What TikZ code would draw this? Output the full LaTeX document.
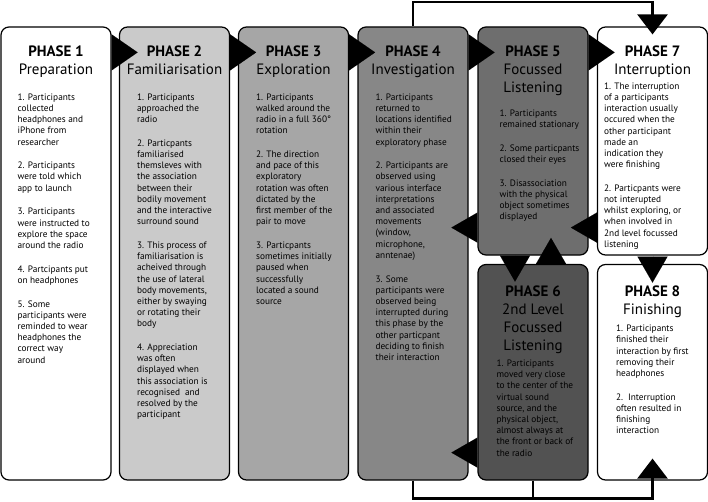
\documentclass[tikz,border=0pt]{standalone}
\usepackage{fontspec}
\setmainfont{PT Sans}
\usetikzlibrary{arrows.meta}

\definecolor{phasetwo}{HTML}{CACACA}
\definecolor{phasethree}{HTML}{A6A6A6}
\definecolor{phasefour}{HTML}{878787}
\definecolor{phasefive}{HTML}{6E6E6E}
\definecolor{phasesix}{HTML}{525252}

\begin{document}
\begin{tikzpicture}[
    x=1pt, y=1pt,
    phase/.style={draw, line width=1.2pt, rounded corners=8pt, minimum width=110pt, inner sep=0pt},
    tall/.style={phase, minimum height=453pt},
    upper/.style={phase, minimum height=228pt},
    lower/.style={phase, minimum height=215.5pt},
    title/.style={anchor=north, align=center, inner sep=0pt, font=\fontsize{15}{18}\selectfont},
    body/.style={anchor=north west, align=left, inner sep=0pt, font=\fontsize{9.3}{11.2}\selectfont},
    flow/.style={-{Triangle[length=26pt,width=36pt]}, line width=0.01pt},
    flowsmall/.style={-{Triangle[length=26pt,width=30pt]}, line width=0.01pt},
    link/.style={line width=2.6pt},
    linkarrow/.style={link, -{Triangle[length=20pt,width=30pt]}}
]
\useasboundingbox (0,0) rectangle (708,501);

% Phase boxes
\node[tall, fill=white] (p1) at (56,247.5) {};
\node[tall, fill=phasetwo] (p2) at (174.5,247.5) {};
\node[tall, fill=phasethree] (p3) at (293.5,247.5) {};
\node[tall, fill=phasefour] (p4) at (413,247.5) {};
\node[upper, fill=phasefive] (p5) at (533,360) {};
\node[lower, fill=phasesix] (p6) at (533,128.75) {};
\node[upper, fill=white] (p7) at (652.5,360) {};
\node[lower, fill=white] (p8) at (652.5,128.75) {};

% Titles
\node[title] (t1) at ([yshift=-19.5pt]p1.north) {\textbf{PHASE 1}\\Preparation};
\node[title] (t2) at ([yshift=-19.5pt]p2.north) {\textbf{PHASE 2}\\Familiarisation};
\node[title] (t3) at ([yshift=-19.5pt]p3.north) {\textbf{PHASE 3}\\Exploration};
\node[title] (t4) at ([yshift=-19.5pt]p4.north) {\textbf{PHASE 4}\\Investigation};
\node[title] (t5) at ([yshift=-19.5pt]p5.north) {\textbf{PHASE 5}\\Focussed\\Listening};
\node[title] (t6) at ([yshift=-21.5pt]p6.north) {\textbf{PHASE 6}\\2nd Level\\Focussed\\Listening};
\node[title] (t7) at ([yshift=-19.5pt]p7.north) {\textbf{PHASE 7}\\Interruption};
\node[title] (t8) at ([yshift=-21.5pt]p8.north) {\textbf{PHASE 8}\\Finishing};

% Observations
\node[body] (b1) at ([xshift=17pt,yshift=-67pt]p1.north west) {1. Participants\\collected\\headphones and\\iPhone from\\researcher\\[12.5pt]
2. Participants\\were told which\\app to launch\\[12.5pt]
3. Participants\\were instructed to\\explore the space\\around the radio\\[12.5pt]
4. Partcipants put\\on headphones\\[12.5pt]
5. Some\\participants were\\reminded to wear\\headphones the\\correct way\\around};
\node[body] (b2) at ([xshift=18pt,yshift=-67pt]p2.north west) {1. Participants\\approached the\\radio\\[12.5pt]
2. Particpants\\familiarised\\themsleves with\\the association\\between their\\bodily movement\\and the interactive\\surround sound\\[12.5pt]
3. This process of\\familiarisation is\\acheived through\\the use of lateral\\body movements,\\either by swaying\\or rotating their\\body\\[12.5pt]
4. Appreciation\\was often\\displayed when\\this association is\\recognised\ \ and\\resolved by the\\participant};
\node[body] (b3) at ([xshift=18pt,yshift=-67pt]p3.north west) {1. Participants\\walked around the\\radio in a full 360°\\rotation\\[12.5pt]
2. The direction\\and pace of this\\exploratory\\rotation was often\\dictated by the\\first member of the\\pair to move\\[12.5pt]
3. Particpants\\sometimes initially\\paused when\\successfully\\located a sound\\source};
\node[body] (b4) at ([xshift=18pt,yshift=-67pt]p4.north west) {1. Participants\\returned to\\locations identified\\within their\\exploratory phase\\[12.5pt]
2. Participants are\\observed using\\various interface\\interpretations\\and associated\\movements\\(window,\\microphone,\\anntenae)\\[12.5pt]
3. Some\\participants were\\observed being\\interrupted during\\this phase by the\\other particpant\\deciding to finish\\their interaction};
\node[body] (b5) at ([xshift=22pt,yshift=-83.3pt]p5.north west) {1. Participants\\remained stationary\\[12.5pt]
2. Some particpants\\closed their eyes\\[12.5pt]
3. Disassociation\\with the physical\\object sometimes\\displayed};
\node[body] (b6) at ([xshift=19pt,yshift=-95.7pt]p6.north west) {1. Participants\\moved very close\\to the center of the\\virtual sound\\source, and the\\physical object,\\almost always at\\the front or back of\\the radio};
\node[body] (b7) at ([xshift=7pt,yshift=-56pt]p7.north west) {1. The interruption\\of a participants\\interaction usually\\occured when the\\other participant\\made an\\indication they\\were finishing\\[12.5pt]
2. Particpants were\\not interupted\\whilst exploring, or\\when involved in\\2nd level focussed\\listening};
\node[body] (b8) at ([xshift=19pt,yshift=-61pt]p8.north west) {1. Participants\\finished their\\interaction by first\\removing their\\headphones\\[12.5pt]
2.\ \ Interruption\\often resulted in\\finishing\\interaction};

% Forward arrows
\draw[flow] ([yshift=-26pt]p1.north east) -- ++(26pt,0);
\draw[flow] ([yshift=-26pt]p2.north east) -- ++(26pt,0);
\draw[flow] ([yshift=-26pt]p3.north east) -- ++(26pt,0);
\draw[flow] ([yshift=-26pt]p4.north east) -- ++(26pt,0);
\draw[flow] ([yshift=-26pt]p5.north east) -- ++(26pt,0);

% Return arrows
\draw[flowsmall] ([yshift=28pt]p5.south west) -- ++(-26pt,0);
\draw[flowsmall] ([yshift=28pt]p6.south west) -- ++(-26pt,0);
\draw[flowsmall] ([yshift=28pt]p7.south west) -- ++(-26pt,0);
\draw[flowsmall] ([xshift=-18pt]p5.south) -- ++(0,-26pt);
\draw[flowsmall] ([xshift=18pt]p6.north) -- ++(0,26pt);
\draw[flowsmall] (p7.south) -- ++(0,-27pt);

% Loops to interruption and finishing
\coordinate (top) at ([yshift=24.5pt]p4.north);
\coordinate (bottom) at ([yshift=-18pt]p4.south);
\draw[linkarrow] (p4.north) -- (top) -| ([yshift=-8pt]p7.north);
\draw[linkarrow] (p4.south) -- (bottom) -| ([yshift=22pt]p8.south);
\draw[link] (p6.south) -- (p6.south |- bottom);

\end{tikzpicture}
\end{document}
